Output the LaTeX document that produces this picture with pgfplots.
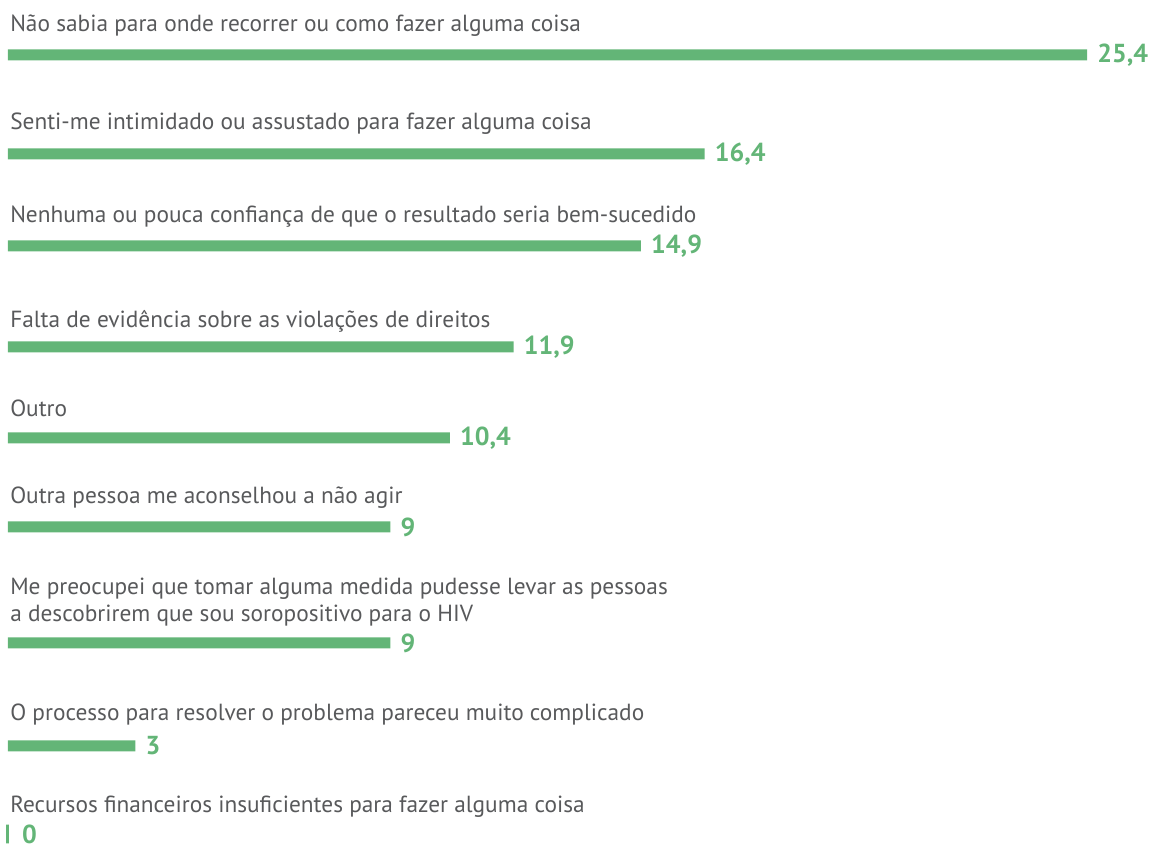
\documentclass[border=0pt]{standalone}
\usepackage{pgfplots}
\pgfplotsset{compat=1.18}
\usepackage{fontspec}
\setmainfont{PT Sans}
\definecolor{barg}{HTML}{63B577}
\definecolor{txtg}{HTML}{58595B}
\begin{document}
\begin{tikzpicture}
\begin{axis}[
  scale only axis, width=868.5pt, height=639pt,
  xmin=-0.1883, xmax=27.0715, ymin=-852, ymax=0,
  hide axis, clip=false,
  xbar, bar shift=0pt,
  point meta=x,
  nodes near coords,
  nodes near coords style={font=\bfseries\fontsize{19.5}{20}\selectfont, text=barg, inner sep=0pt, anchor=west, xshift=7.5pt,
    /pgf/number format/use comma, /pgf/number format/fixed, /pgf/number format/precision=1, /pgf/number format/assume math mode=true},
]
\path (rel axis cs:0,0) rectangle (rel axis cs:1,1);
\addplot[fill=barg, draw=none, bar width=8.25pt] table[x=v, y=y] {
v y
25.4 -55
16.4 -154
14.9 -246
11.9 -347
10.4 -438
9 -527
9 -643
3 -746
};
\addplot[fill=barg, draw=barg, line width=2.25pt, bar width=14pt, every node near coord/.append style={xshift=2pt}] table[x=v, y=y] {
v y
0 -834
};
\begin{scope}[every node/.style={anchor=base west, inner sep=0pt, text=txtg, font=\fontsize{17.5}{20}\selectfont}]
\node at (axis cs:0.047,-32) {Não sabia para onde recorrer ou como fazer alguma coisa};
\node at (axis cs:0.047,-130) {Senti-me intimidado ou assustado para fazer alguma coisa};
\node at (axis cs:0.047,-223) {Nenhuma ou pouca confiança de que o resultado seria bem-sucedido};
\node at (axis cs:0.047,-328) {Falta de evidência sobre as violações de direitos};
\node at (axis cs:0.047,-417) {Outro};
\node at (axis cs:0.047,-504) {Outra pessoa me aconselhou a não agir};
\node at (axis cs:0.047,-595) {Me preocupei que tomar alguma medida pudesse levar as pessoas};
\node at (axis cs:0.047,-622) {a descobrirem que sou soropositivo para o HIV};
\node at (axis cs:0.047,-721) {O processo para resolver o problema pareceu muito complicado};
\node at (axis cs:0.047,-812) {Recursos financeiros insuficientes para fazer alguma coisa};
\end{scope}
\end{axis}
\end{tikzpicture}
\end{document}
